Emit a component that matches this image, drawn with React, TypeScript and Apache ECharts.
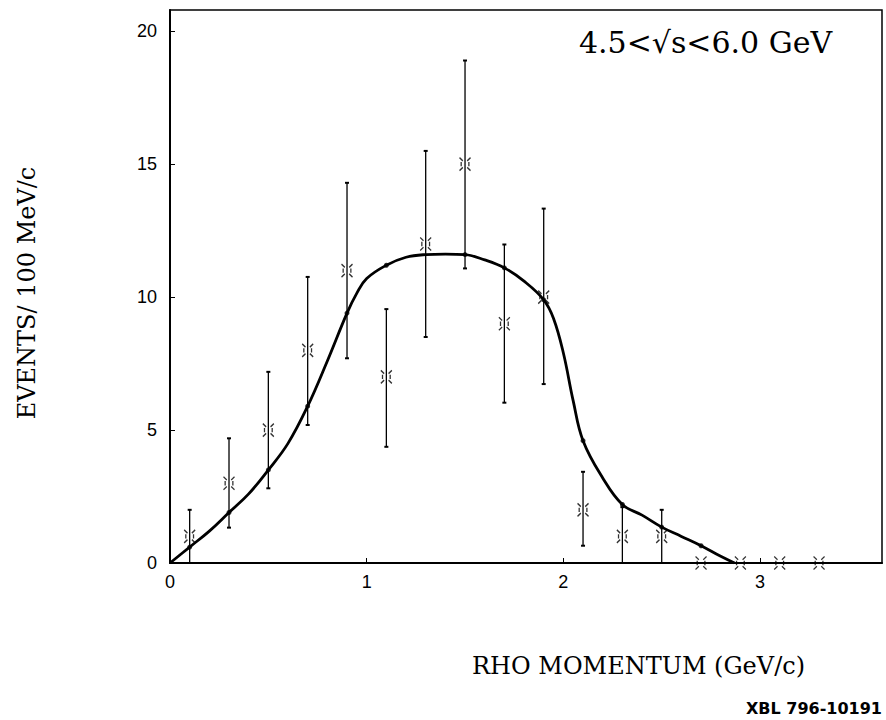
import React, { useEffect, useRef } from "react";
import * as echarts from "echarts";

// Measured histogram points (bin centre, events, error)
const binCentres = [0.1, 0.3, 0.5, 0.7, 0.9, 1.1, 1.3, 1.5, 1.7, 1.9, 2.1, 2.3, 2.5, 2.7, 2.9, 3.1, 3.3];
const eventCounts = [1, 3, 5, 8, 11, 7, 12, 15, 9, 10, 2, 1, 1, 0, 0, 0, 0];
const errLow = [0, 1.33, 2.81, 5.19, 7.7, 4.37, 8.5, 11.08, 6.03, 6.73, 0.65, 0, 0, null, null, null, null];
const errHigh = [2.0, 4.69, 7.19, 10.76, 14.3, 9.55, 15.5, 18.9, 11.98, 13.33, 3.43, 2.1, 2.0, null, null, null, null];

// Fitted curve
const curveX = [0, 0.1, 0.2, 0.3, 0.4, 0.5, 0.6, 0.7, 0.8, 0.9, 0.95, 1.0, 1.1, 1.2, 1.3, 1.4, 1.5, 1.6, 1.7, 1.8, 1.9, 1.95, 2.0, 2.05, 2.1, 2.2, 2.3, 2.4, 2.5, 2.6, 2.7, 2.8, 2.87];
const curveY = [0, 0.6, 1.2, 1.9, 2.6, 3.5, 4.5, 5.9, 7.6, 9.4, 10.15, 10.7, 11.2, 11.5, 11.6, 11.62, 11.6, 11.4, 11.1, 10.6, 9.9, 9.2, 7.9, 6.1, 4.6, 3.2, 2.2, 1.8, 1.35, 1.0, 0.65, 0.25, 0];
const curveDotX = [0.1, 0.3, 0.5, 0.7, 0.9, 1.1, 1.5, 1.7, 1.9, 2.1, 2.3, 2.5, 2.7];

const yTicks = [0, 5, 10, 15, 20];
const xTicks = [0, 1, 2, 3];

const MARKER =
  "path://M0,0L3,3M10,0L7,3M0,12L3,9M10,12L7,9M1.5,4L1.5,8M8.5,4L8.5,8";

export default function App() {
  const ref = useRef<HTMLDivElement>(null);
  useEffect(() => {
    if (!ref.current) return;
    const chart = echarts.init(ref.current, null, { renderer: "svg" });
    const errData = binCentres
      .map((x, i) => [x, errLow[i], errHigh[i]])
      .filter((d) => d[1] !== null);
    const curveData = curveX.map((x, i) => [x, curveY[i]]);
    const dotData = curveData.filter((d) => curveDotX.some((c) => Math.abs(c - d[0]) < 1e-6));
    chart.setOption({
      animation: false,
      backgroundColor: "#fff",
      grid: {
        left: 170,
        right: 4,
        top: 10,
        bottom: 157,
        show: true,
        borderColor: "#000",
        borderWidth: 1.5,
      },
      xAxis: {
        type: "value",
        min: 0,
        max: 3.62,
        interval: 1,
        axisLine: { show: true, lineStyle: { color: "#000", width: 2 } },
        axisTick: { show: true, inside: true, length: 5, lineStyle: { color: "#000" } },
        splitLine: { show: false },
        axisLabel: {
          showMaxLabel: false,
          color: "#000",
          fontFamily: "Liberation Sans",
          fontSize: 18,
          margin: 10,
          formatter: (v: number) => (xTicks.includes(v) ? String(v) : ""),
        },
      },
      yAxis: {
        type: "value",
        min: 0,
        max: 20.8,
        interval: 5,
        axisLine: { show: true, lineStyle: { color: "#000", width: 2 } },
        axisTick: { show: true, inside: true, length: 5, lineStyle: { color: "#000" } },
        splitLine: { show: false },
        axisLabel: {
          showMaxLabel: false,
          color: "#000",
          fontFamily: "Liberation Sans",
          fontSize: 18,
          margin: 13,
          formatter: (v: number) => (yTicks.includes(v) ? String(v) : ""),
        },
      },
      graphic: [
        {
          type: "text",
          left: 579,
          top: 27,
          style: { text: "4.5<√s<6.0 GeV", font: "30px 'DejaVu Serif'", fill: "#000" },
        },
        {
          type: "text",
          x: 27,
          y: 293,
          rotation: Math.PI / 2,
          style: {
            text: "EVENTS/ 100 MeV/c",
            font: "24px 'DejaVu Serif'",
            fill: "#000",
            align: "center",
            verticalAlign: "middle",
          },
        },
        {
          type: "text",
          left: 472,
          top: 654,
          style: { text: "RHO MOMENTUM (GeV/c)", font: "24px 'DejaVu Serif'", fill: "#000" },
        },
        {
          type: "text",
          left: 746,
          top: 700,
          style: { text: "XBL 796-10191", font: "bold 16px 'DejaVu Sans'", fill: "#000" },
        },
      ],
      series: [
        {
          type: "custom",
          data: errData,
          renderItem: (params: any, api: any) => {
            const x = api.value(0);
            const top = api.coord([x, api.value(2)]);
            const bot = api.coord([x, api.value(1)]);
            const st = { stroke: "#000", lineWidth: 1.3 };
            return {
              type: "group",
              children: [
                { type: "line", shape: { x1: top[0], y1: top[1], x2: bot[0], y2: bot[1] }, style: st },
                { type: "line", shape: { x1: top[0] - 2, y1: top[1], x2: top[0] + 2, y2: top[1] }, style: { stroke: "#000", lineWidth: 2 } },
                { type: "line", shape: { x1: bot[0] - 2, y1: bot[1], x2: bot[0] + 2, y2: bot[1] }, style: { stroke: "#000", lineWidth: 2 } },
              ],
            };
          },
          z: 2,
        },
        {
          type: "line",
          data: curveData,
          smooth: 0.4,
          showSymbol: false,
          lineStyle: { color: "#000", width: 2.8 },
          z: 3,
        },
        {
          type: "scatter",
          data: dotData,
          symbol: "circle",
          symbolSize: 5,
          itemStyle: { color: "#000" },
          z: 4,
        },
        {
          type: "scatter",
          data: binCentres.map((x, i) => [x, eventCounts[i]]),
          symbol: MARKER,
          symbolSize: [11, 13],
          itemStyle: { color: "rgba(0,0,0,0)", borderColor: "#000", borderWidth: 1.4 },
          z: 5,
        },
      ],
    });
    return () => chart.dispose();
  }, []);
  return (
    <div
      ref={ref}
      style={{ position: "absolute", left: 0, top: 0, width: 886, height: 720, background: "#fff" }}
    />
  );
}
